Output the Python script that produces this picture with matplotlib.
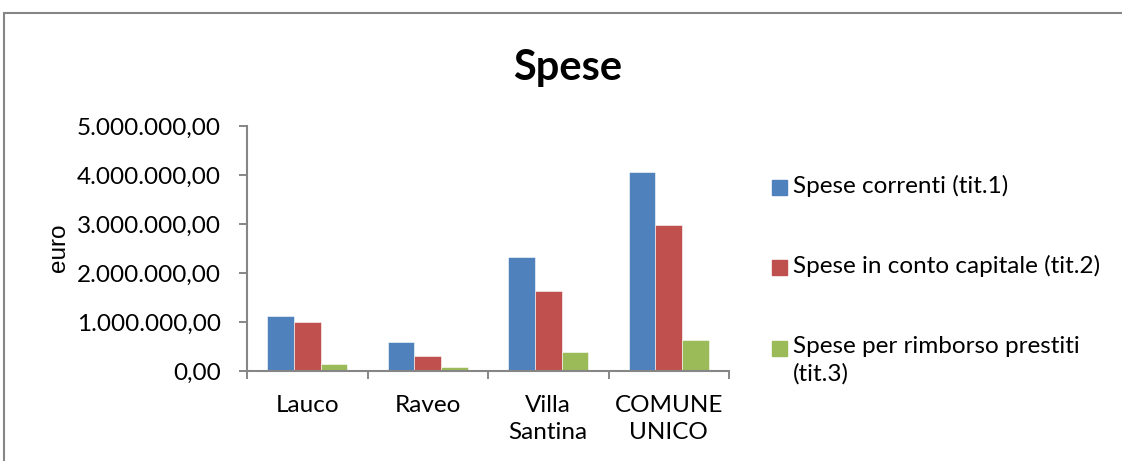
import matplotlib
matplotlib.use("Agg")
import matplotlib.pyplot as plt
from matplotlib.patches import Rectangle
from matplotlib.ticker import FuncFormatter, MultipleLocator
import numpy as np

# --- dati ---
comuni = ["Lauco", "Raveo", "Villa\nSantina", "COMUNE\nUNICO"]
serie = ["Spese correnti (tit.1)",
         "Spese in conto capitale (tit.2)",
         "Spese per rimborso prestiti\n(tit.3)"]
correnti = [1120000, 590000, 2330000, 4060000]
capitale = [1010000, 300000, 1640000, 2970000]
rimborso = [140000, 80000, 380000, 630000]
colori = ["#4F81BD", "#C0504D", "#9BBB59"]

plt.rcParams['font.family'] = ['Lato', 'DejaVu Sans']
FS = 17.5
GRIGIO = "#868686"

fig = plt.figure(figsize=(11.22, 4.61), dpi=100)
W, H = 1122, 461

# cornice del grafico
fig.patches.append(Rectangle((4 / W, -0.1), 1.2, (H - 13) / H + 0.1,
                             transform=fig.transFigure, fill=False,
                             edgecolor=GRIGIO, linewidth=1.5))

ax = fig.add_axes([247 / W, (H - 371) / H, (729 - 247) / W, (371 - 126) / H])

x = np.arange(len(comuni))
w = 0.222
for i, vals in enumerate([correnti, capitale, rimborso]):
    ax.bar(x + (i - 1) * w, vals, width=w, color=colori[i],
           edgecolor="white", linewidth=0.4)

ax.set_xlim(-0.5, len(comuni) - 0.5)
ax.set_ylim(0, 5000000)
ax.yaxis.set_major_locator(MultipleLocator(1000000))
ax.yaxis.set_major_formatter(FuncFormatter(
    lambda v, p: f"{v:,.2f}".replace(",", "X").replace(".", ",").replace("X", ".")))

# etichette categorie con tick ai confini
ax.set_xticks(np.arange(-0.5, len(comuni)))
ax.set_xticklabels([])
ax.set_xticks(x, minor=True)
ax.set_xticklabels(comuni, minor=True, fontsize=FS, linespacing=1.35)
ax.tick_params(axis="x", which="minor", length=0, pad=17)
ax.tick_params(axis="x", which="major", length=6, color=GRIGIO, width=1.4)
ax.tick_params(axis="y", length=6, color=GRIGIO, width=1.4, labelsize=FS, pad=13)

for s in ["top", "right"]:
    ax.spines[s].set_visible(False)
for s in ["left", "bottom"]:
    ax.spines[s].set_color(GRIGIO)
    ax.spines[s].set_linewidth(1.5)

fig.text(59 / W, (H - 248) / H, "euro", rotation=90, ha="center", va="center",
         fontsize=FS, family="Liberation Sans")
fig.text(568 / W, (H - 68) / H, "Spese", ha="center", va="center",
         fontsize=30, fontweight="bold")

# legenda
leg_y = [187, 267, 348]
for nome, col, yy in zip(serie, colori, leg_y):
    fig.patches.append(Rectangle((772 / W, (H - yy - 7.5) / H), 15 / W, 15 / H,
                                 transform=fig.transFigure, color=col))
    fig.text(793 / W, (H - yy + 12) / H, nome, ha="left", va="top",
             fontsize=FS, linespacing=1.35)

fig.savefig("out.png", dpi=100)
